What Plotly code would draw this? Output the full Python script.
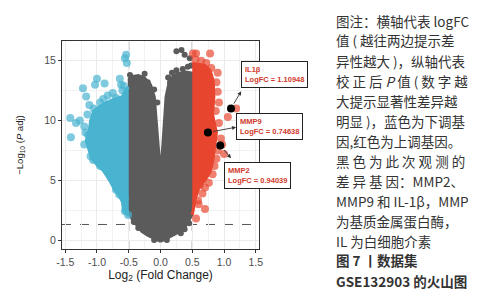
import plotly.graph_objects as go

# ---------------- data ----------------
# dense cores of each group (outline of the point cloud, data coords)
grey_core_x = [0.0, -0.1, -0.2, -0.3, -0.39, -0.45, -0.5, -0.5, -0.45, -0.35, -0.25, -0.15, -0.09, -0.06, -0.03, 0.0,
               0.03, 0.06, 0.08, 0.12, 0.2, 0.3, 0.4, 0.5, 0.5, 0.45, 0.4, 0.3, 0.2, 0.1, 0.0]
grey_core_y = [-0.15, 0.1, 0.35, 0.7, 1.25, 1.7, 2.2, 13.5, 13.7, 13.8, 13.6, 13.0, 12.0, 10.0, 8.0, 6.0,
               8.0, 10.0, 12.0, 13.0, 13.8, 14.0, 14.1, 14.0, 2.1, 1.6, 1.15, 0.65, 0.35, 0.1, -0.15]
grey_pts_x = [0.25, 0.33, 0.38, 0.46, 0.43, -0.4, -0.3, -0.15, -0.45, -0.2, 0.15, 0.25, 0.35, 0.32, 0.38, -0.35,
              -0.42, 0.45, -0.1, 0.1, -0.1, -0.05, 0.12, 0.18, -0.25, 0.48, -0.48]
grey_pts_y = [15.8, 15.9, 15.5, 15.2, 14.5, 13.4, 13.4, 12.1, 13.6, 13.2, 13.2, 14.2, 14.3, 0.56, 0.9, 1.0,
              1.5, 1.4, 0.0, 0.0, 12.6, 11.5, 13.6, 14.0, 13.9, 14.6, 13.8]

blue_core_x = [-0.5, -0.58, -0.6, -0.66, -0.72, -0.8, -0.9, -1.0, -1.08, -1.12, -1.17, -1.12, -1.1, -1.05, -0.95,
               -0.85, -0.72, -0.6, -0.55, -0.5]
blue_core_y = [2.0, 2.4, 3.2, 3.8, 4.2, 5.0, 5.8, 6.3, 6.8, 7.5, 8.3, 9.2, 10.0, 10.8, 11.2,
               11.5, 11.8, 12.0, 12.6, 12.8]
blue_pts_x = [-0.56, -0.54, -0.64, -0.62, -0.83, -0.88, -1.0, -1.03, -1.17, -1.22, -1.42, -1.33, -1.27, -1.41,
              -1.14, -1.2, -1.15, -1.06, -0.83, -0.7, -0.56, -0.56, -0.51, -0.95, -0.75, -0.6, -0.7, -1.05,
              -1.2, -1.1, -0.95, -0.78, -0.65, -0.53, -0.58, -0.9, -1.12, -1.18]
blue_pts_y = [15.2, 15.5, 13.5, 13.0, 12.1, 13.1, 13.5, 13.0, 12.0, 12.7, 10.2, 9.8, 10.0, 8.6,
              8.8, 9.5, 10.5, 6.7, 5.8, 4.2, 3.5, 2.4, 2.1, 11.5, 12.3, 12.5, 11.9, 11.0,
              8.0, 7.0, 6.2, 5.2, 3.8, 14.8, 12.9, 11.8, 11.3, 9.0]

red_core_x = [0.5, 0.55, 0.6, 0.7, 0.78, 0.82, 0.85, 0.88, 0.82, 0.84, 0.83, 0.78, 0.7, 0.6, 0.52, 0.5]
red_core_y = [2.1, 3.5, 4.3, 5.0, 5.7, 6.5, 7.7, 9.0, 10.5, 12.0, 13.3, 14.2, 14.6, 14.7, 14.8, 14.8]
red_pts_x = [0.51, 0.56, 0.78, 0.9, 0.88, 0.9, 0.92, 1.19, 1.06, 0.92, 0.95, 0.9, 1.0, 0.88, 0.85, 0.82,
             0.76, 0.7, 0.66, 0.7, 0.56, 0.59, 0.6, 0.62, 0.8, 0.72, 0.64, 0.55, 0.87, 0.97]
red_pts_y = [15.6, 15.6, 15.6, 14.0, 13.2, 12.4, 11.5, 11.0, 10.3, 9.8, 8.5, 7.5, 7.2, 6.8, 6.2, 5.5,
             4.8, 4.4, 3.9, 2.6, 1.8, 3.3, 3.0, 4.6, 14.4, 14.8, 15.0, 15.1, 10.8, 8.0]

genes = ["IL1β", "MMP9", "MMP2"]
gene_logfc = [1.10948, 0.74638, 0.94039]
gene_logp = [11.0, 9.0, 7.9]
label_x = [1.79, 1.72, 1.52]
label_y = [13.85, 9.49, 5.38]
arrow_tip_x = [1.27, 1.19, 1.11]
arrow_tip_y = [12.45, 9.44, 6.85]

x_ticks = [-1.5, -1.0, -0.5, 0.0, 0.5, 1.0, 1.5]
y_ticks = [0, 5, 10, 15]
fc_cut = 0.5
p_cut = 1.301

caption_lines = [
    "图注：横轴代表 logFC",
    "值 ( 越往两边提示差",
    "异性越大 )，纵轴代表",
    "校 正 后 <i>P</i> 值 ( 数 字 越",
    "大提示显著性差异越",
    "明显 )，蓝色为下调基",
    "因,红色为上调基因。",
    "黑 色 为 此 次 观 测 的",
    "差 异 基 因：MMP2、",
    "MMP9 和 IL-1β，MMP",
    "为基质金属蛋白酶，",
    "IL 为白细胞介素",
    "<b>图 7 丨数据集</b>",
    "<b>GSE132903 的火山图</b>",
]

# ---------------- figure ----------------
GREY = "#5b5b5b"
BLUE_CORE = "#4ab4d0"
BLUE = "rgba(72,180,208,0.7)"
RED_CORE = "#e8452f"
RED = "rgba(232,72,50,0.7)"
XR = [-1.55, 1.55]
YR = [-0.75, 16.65]

fig = go.Figure()
fig.add_trace(go.Scatter(x=grey_core_x, y=grey_core_y, fill="toself", fillcolor=GREY,
                         mode="lines", line=dict(width=2, color=GREY), hoverinfo="skip"))
fig.add_trace(go.Scatter(x=grey_pts_x, y=grey_pts_y, mode="markers",
                         marker=dict(size=6, color=GREY), hoverinfo="skip"))
fig.add_trace(go.Scatter(x=blue_core_x, y=blue_core_y, fill="toself", fillcolor=BLUE_CORE,
                         mode="lines", line=dict(width=3, color=BLUE_CORE), hoverinfo="skip"))
fig.add_trace(go.Scatter(x=blue_pts_x, y=blue_pts_y, mode="markers",
                         marker=dict(size=8, color=BLUE, line=dict(width=0)), hoverinfo="skip"))
fig.add_trace(go.Scatter(x=red_core_x, y=red_core_y, fill="toself", fillcolor=RED_CORE,
                         mode="lines", line=dict(width=3, color=RED_CORE), hoverinfo="skip"))
fig.add_trace(go.Scatter(x=red_pts_x, y=red_pts_y, mode="markers",
                         marker=dict(size=8, color=RED, line=dict(width=0)), hoverinfo="skip"))
fig.add_trace(go.Scatter(x=gene_logfc, y=gene_logp, mode="markers",
                         marker=dict(size=8, color="black"), hoverinfo="skip"))

# threshold lines
for xv in (-fc_cut, fc_cut):
    fig.add_shape(type="line", x0=xv, x1=xv, y0=0, y1=1, xref="x", yref="paper",
                  line=dict(color="#555555", width=1, dash="dash"), layer="between")
fig.add_shape(type="line", x0=0, x1=1, y0=p_cut, y1=p_cut, xref="paper", yref="y",
              line=dict(color="#555555", width=1, dash="dash"), layer="between")


def px(v):
    return (v - XR[0]) / (XR[1] - XR[0])


def py_(v):
    return (v - YR[0]) / (YR[1] - YR[0])


# gene labels + arrows
for g, fc, lx, ly, tx, ty, pv in zip(genes, gene_logfc, label_x, label_y, arrow_tip_x, arrow_tip_y, gene_logp):
    fig.add_annotation(x=tx, y=ty, ax=fc, ay=pv, axref="x", ayref="y", xref="x", yref="y",
                       text="", showarrow=True, arrowhead=2, arrowsize=0.9, arrowwidth=0.9,
                       arrowcolor="#333333", standoff=0, startstandoff=4)
    fig.add_annotation(x=px(lx), y=py_(ly), xref="paper", yref="paper", showarrow=False,
                       xanchor="center", yanchor="middle",
                       text=f"<b>{g}<br>LogFC = {fc:.5f}</b>", align="left",
                       font=dict(size=7.5, color="#d03a2c", family="Liberation Sans"),
                       bgcolor="white", bordercolor="#222222", borderwidth=1, borderpad=3)

# caption on the right
L, T, W, H = 54, 33, 197, 208
for i, line in enumerate(caption_lines):
    yy = 12.5 + 20 * i
    fig.add_annotation(x=(326 - L) / W, y=(T + H - yy) / H, xref="paper", yref="paper",
                       xanchor="left", yanchor="middle", showarrow=False, text=line,
                       font=dict(size=13.5, color="#333333", family="Noto Sans CJK SC"))

fig.update_layout(
    width=501, height=300,
    margin=dict(l=L, r=501 - L - W, t=T, b=300 - T - H),
    paper_bgcolor="white", plot_bgcolor="white",
    showlegend=False,
    font=dict(family="Liberation Sans", color="#4d4d4d"),
)
fig.update_xaxes(range=XR, tickvals=x_ticks, ticktext=[f"{v:.1f}" for v in x_ticks],
                 showgrid=True, gridcolor="#ebebeb", gridwidth=1,
                 minor=dict(dtick=0.25, tick0=0, showgrid=True, gridcolor="#f2f2f2", gridwidth=0.6),
                 zeroline=False, showline=True, mirror=True, linecolor="#333333", linewidth=1,
                 ticks="outside", ticklen=3, tickcolor="#333333", tickfont=dict(size=10.5, color="#4d4d4d"),
                 title=dict(text="Log<sub>2</sub> (Fold Change)", font=dict(size=12, color="#222222"), standoff=2))
fig.update_yaxes(range=YR, tickvals=y_ticks,
                 showgrid=True, gridcolor="#ebebeb", gridwidth=1,
                 minor=dict(dtick=2.5, tick0=0, showgrid=True, gridcolor="#f2f2f2", gridwidth=0.6),
                 zeroline=False, showline=True, mirror=True, linecolor="#333333", linewidth=1,
                 ticks="outside", ticklen=3, tickcolor="#333333", tickfont=dict(size=10.5, color="#4d4d4d"),
                 title=dict(text="−Log<sub>10</sub> (<i>P</i> adj)", font=dict(size=9.5, color="#222222"), standoff=18))

fig.write_html("out.html")
